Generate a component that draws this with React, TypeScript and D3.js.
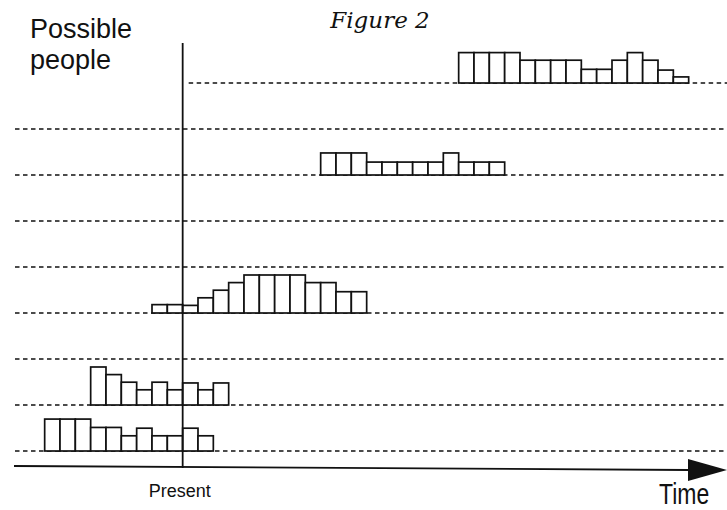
import React from 'react';
import * as d3 from 'd3';

// nine rows of "possible people", 0 = top
const rowIds = [0, 1, 2, 3, 4, 5, 6, 7, 8];

// time is counted in bar slots, 0 = present
const groupRows = [0, 2, 5, 7, 8];
const groupStarts = [18, 9, -2, -6, -9];
const groupHeights = [
  [4, 4, 4, 4, 3, 3, 3, 3, 1.8, 1.8, 3, 4, 3, 1.7, 0.8],
  [2.9, 2.9, 2.9, 1.7, 1.7, 1.7, 1.7, 1.7, 2.9, 1.7, 1.7, 1.7],
  [1.1, 1.1, 1, 2, 3, 4, 5, 5, 5, 5, 4, 4, 2.8, 2.8],
  [5, 4, 3, 2, 3, 2, 2.9, 2, 2.9],
  [4.2, 4.2, 4.2, 3.1, 3.1, 2, 3, 2, 2, 3, 2],
];

const W = 727;
const H = 510;

const App: React.FC = () => {
  const x = d3.scaleLinear().domain([-11, 35.5]).range([14, 727]);
  const y = d3.scaleLinear().domain([0, 8]).range([83, 451]);
  const h = d3.scaleLinear().domain([0, 5]).range([0, 38]);
  const slot = x(1) - x(0);
  const present = x(0);

  const axisLine = d3.line()([
    [14, 466],
    [688, 470],
  ]);
  const arrow = d3.line()([
    [688, 459],
    [727, 470],
    [688, 481],
  ]);

  return (
    <div style={{ position: 'absolute', left: 0, top: 0 }}>
      <svg width={W} height={H} style={{ background: '#fff', display: 'block' }}>
        <text
          x={380}
          y={28}
          textAnchor="middle"
          fontFamily="DejaVu Serif"
          fontStyle="italic"
          fontSize={23}
          fill="#111"
        >
          Figure 2
        </text>
        <g fontFamily="Liberation Sans, Arial, sans-serif" fill="#111" fontSize={27}>
          <text x={30} y={38}>Possible</text>
          <text x={30} y={69}>people</text>
        </g>

        {rowIds.map((r) => (
          <line
            key={r}
            x1={r === 0 ? present + 6 : 15}
            x2={W}
            y1={y(r)}
            y2={y(r)}
            stroke="#111"
            strokeWidth={1.7}
            strokeDasharray="4.5,3.5"
          />
        ))}

        {groupHeights.map((vals, gi) => (
          <g key={gi}>
            {vals.map((v, i) => (
              <rect
                key={i}
                x={x(groupStarts[gi] + i)}
                y={y(groupRows[gi]) - h(v)}
                width={slot}
                height={h(v)}
                fill="#fff"
                stroke="#111"
                strokeWidth={1.7}
              />
            ))}
          </g>
        ))}

        <line x1={present} x2={present} y1={43} y2={468} stroke="#111" strokeWidth={1.8} />
        <path d={axisLine ?? ''} fill="none" stroke="#111" strokeWidth={1.8} />
        <path d={arrow ?? ''} fill="#111" />

        <g fontFamily="Liberation Sans, Arial, sans-serif" fill="#111">
          <text x={present - 3} y={497} textAnchor="middle" fontSize={18}>Present</text>
          <text x={0} y={0} fontSize={23} transform="translate(659,504) scale(1,1.3)">Time</text>
        </g>
      </svg>
    </div>
  );
};

export default App;
